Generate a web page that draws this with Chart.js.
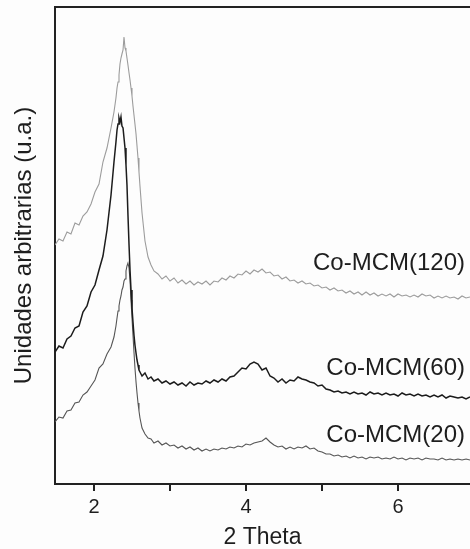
<!DOCTYPE html>
<html>
<head>
<meta charset="utf-8">
<script src="https://cdn.jsdelivr.net/npm/chart.js@4"></script>
<style>
  html, body { margin: 0; padding: 0; background: #fdfdfd; }
  #wrap { width: 470px; height: 549px; }
</style>
</head>
<body>
<div id="wrap"><canvas id="xrdChart"></canvas></div>
<script>
// 2 theta positions (shared by the three patterns)
const twoTheta = [
  1.487, 1.539, 1.592, 1.645, 1.697, 1.750, 1.803, 1.855, 1.908, 1.961, 2.013, 2.066, 2.118, 2.171, 2.224, 2.263,
  2.289, 2.303, 2.316, 2.329, 2.342, 2.355, 2.368, 2.382, 2.395, 2.408, 2.421, 2.434, 2.447,
  2.461, 2.474, 2.487, 2.500, 2.513, 2.526, 2.539, 2.553, 2.566, 2.579, 2.592, 2.605,
  2.632, 2.671, 2.711, 2.750, 2.789,
  2.842, 2.895, 2.947, 3.000, 3.053, 3.105, 3.158, 3.211, 3.263, 3.316,
  3.368, 3.421, 3.474, 3.526, 3.579, 3.632, 3.684, 3.737, 3.789, 3.842,
  3.895, 3.947, 4.000, 4.053, 4.105, 4.158, 4.211, 4.263, 4.316, 4.368,
  4.421, 4.474, 4.526, 4.579, 4.632, 4.684, 4.737, 4.789, 4.842, 4.895,
  4.947, 5.000, 5.053, 5.105, 5.158, 5.211, 5.263, 5.316, 5.368, 5.421,
  5.474, 5.526, 5.579, 5.632, 5.684, 5.737, 5.789, 5.842, 5.895, 5.947,
  6.000, 6.053, 6.105, 6.158, 6.211, 6.263, 6.316, 6.368, 6.421, 6.474,
  6.526, 6.579, 6.632, 6.684, 6.737, 6.789, 6.842, 6.895,
  6.947
];

// intensities (u.a.), already offset as stacked in the figure
const coMcm120 = [
  239, 245, 243, 252, 250, 261, 259, 268, 272, 280, 292, 300, 322, 336, 356, 372,
  386, 396, 402, 409, 420, 426, 430, 434, 447, 436, 433, 426, 419,
  411, 404, 396, 388, 378, 369, 360, 350, 338, 326, 312, 298,
  271, 243, 227, 219, 213,
  210, 205, 208, 203, 206, 201, 204, 200, 203, 199,
  202, 200, 203, 199, 203, 202, 206, 204, 208, 206,
  210, 209, 213, 210, 214, 212, 215, 211, 212, 208,
  209, 205, 207, 203, 204, 201, 203, 200, 201, 198,
  199, 196, 197, 194, 196, 193, 194, 191, 193, 190,
  192, 189, 192, 189, 191, 188, 190, 188, 190, 187,
  190, 188, 189, 187, 189, 187, 190, 188, 189, 186,
  188, 186, 188, 186, 187, 185, 188, 186,
  187
];
const coMcm60 = [
  132, 138, 136, 145, 148, 156, 158, 172, 178, 192, 199, 214, 228, 254, 289, 322,
  342, 354, 360, 366, 362, 367, 358, 356, 346, 336, 319, 299, 269,
  239, 214, 194, 176, 162, 149, 139, 131, 124, 119, 114, 112,
  108, 111, 105, 107, 103,
  105, 101, 103, 100, 102, 99, 101, 98, 102, 99,
  101, 100, 103, 101, 104, 102, 105, 103, 107, 108,
  112, 116, 115, 120, 122, 120, 114, 116, 108, 106,
  102, 105, 101, 104, 103, 107, 105, 104, 102, 101,
  98, 99, 95, 94, 92, 93, 91, 92, 90, 92,
  90, 91, 89, 92, 90, 91, 89, 91, 89, 90,
  88, 91, 89, 90, 88, 90, 88, 89, 87, 89,
  87, 89, 86, 88, 87, 86, 87, 85,
  87
];
const coMcm20 = [
  62, 67, 66, 73, 74, 81, 82, 89, 92, 98, 104, 116, 120, 130, 137, 147,
  158, 166, 173, 178, 184, 188, 194, 197, 203, 205, 213, 218, 221,
  216, 204, 184, 166, 149, 132, 116, 102, 91, 81, 73, 66,
  56, 50, 46, 45, 41,
  43, 39, 41, 38, 39, 36, 38, 35, 37, 34,
  36, 33, 35, 33, 35, 34, 36, 35, 37, 36,
  38, 37, 40, 39, 41, 42, 43, 46, 42, 39,
  37, 38, 35, 37, 35, 37, 36, 38, 35, 36,
  33, 32, 30, 30, 28, 29, 27, 28, 26, 28,
  26, 27, 25, 27, 26, 27, 25, 26, 25, 27,
  25, 26, 24, 26, 25, 26, 24, 26, 25, 25,
  24, 26, 24, 25, 24, 25, 24, 25,
  24
];

const seriesNames = ['Co-MCM(120)', 'Co-MCM(60)', 'Co-MCM(20)'];
const labelLevels = [221, 116, 49];
const xTickLabels = [2, 4, 6];

const FONT = '"Liberation Sans", Arial, sans-serif';

function toPoints(ys) {
    return ys.map((y, i) => ({ x: twoTheta[i], y: y }));
}

// top frame line + sample names at the right end of each pattern
const decorations = {
    id: 'decorations',
    afterDraw(chart) {
        const { ctx, chartArea, scales } = chart;
        ctx.save();
        ctx.strokeStyle = '#222';
        ctx.lineWidth = 2;
        ctx.beginPath();
        ctx.moveTo(chartArea.left - 1, chartArea.top);
        ctx.lineTo(chartArea.right, chartArea.top);
        ctx.stroke();

        ctx.fillStyle = '#1e1e1e';
        ctx.font = '24px ' + FONT;
        ctx.textAlign = 'right';
        ctx.textBaseline = 'middle';
        seriesNames.forEach((name, i) => {
            ctx.fillText(name, chartArea.right - 5, scales.y.getPixelForValue(labelLevels[i]));
        });
        ctx.restore();
    }
};

const ctx = document.getElementById('xrdChart').getContext('2d');
new Chart(ctx, {
    type: 'line',
    data: {
        datasets: [
            { label: seriesNames[0], data: toPoints(coMcm120), borderColor: '#9c9c9c', borderWidth: 1.1 },
            { label: seriesNames[1], data: toPoints(coMcm60), borderColor: '#1c1c1c', borderWidth: 1.5 },
            { label: seriesNames[2], data: toPoints(coMcm20), borderColor: '#555555', borderWidth: 1.1 }
        ]
    },
    options: {
        responsive: true,
        maintainAspectRatio: false,
        animation: false,
        layout: { padding: { top: 7, right: 0, left: 0, bottom: 0 } },
        elements: {
            point: { radius: 0 },
            line: { tension: 0, fill: false }
        },
        plugins: {
            legend: { display: false },
            tooltip: { enabled: false }
        },
        scales: {
            x: {
                type: 'linear',
                min: 1.487,
                max: 6.947,
                afterFit: (scale) => { scale.height = 65; },
                border: { display: true, color: '#222', width: 2 },
                grid: {
                    display: true,
                    drawOnChartArea: false,
                    drawTicks: true,
                    tickLength: 7,
                    color: '#222',
                    lineWidth: 2
                },
                ticks: {
                    stepSize: 1,
                    includeBounds: false,
                    autoSkip: false,
                    maxRotation: 0,
                    padding: 4,
                    color: '#1e1e1e',
                    font: { family: FONT, size: 20 },
                    callback: (v) => xTickLabels.includes(v) ? String(v) : ''
                },
                title: {
                    display: true,
                    text: '2 Theta',
                    color: '#1e1e1e',
                    font: { family: FONT, size: 23, lineHeight: 1 },
                    padding: { top: 0, bottom: 0 }
                }
            },
            y: {
                min: 0,
                max: 477,
                afterFit: (scale) => { scale.width = 55; },
                border: { display: true, color: '#222', width: 2 },
                grid: { display: false },
                ticks: { display: false },
                title: {
                    display: true,
                    text: 'Unidades arbitrarias (u.a.)',
                    color: '#1e1e1e',
                    font: { family: FONT, size: 24, lineHeight: 1 },
                    padding: { top: 12, bottom: 0 }
                }
            }
        }
    },
    plugins: [decorations]
});
</script>
</body>
</html>
